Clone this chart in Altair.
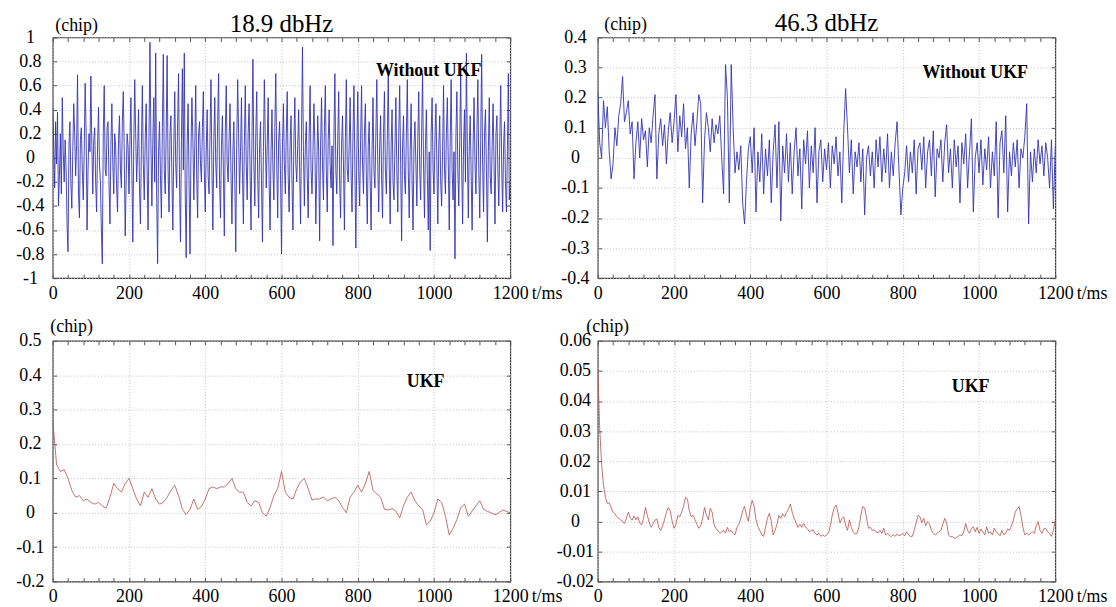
import altair as alt
import pandas as pd

FONT = "Liberation Serif"

# ---------------- data ----------------
t_2_5ms = [i * 2.5 for i in range(481)]
t_5ms = list(range(0, 1201, 5))
t_10ms = list(range(0, 1201, 10))

err_18_9 = [
    0.42, 0.1, -0.25, 0.3, -0.05, 0.38, -0.4, -0.15, 0.2, -0.3, 0.5, 0.05, -0.2, 0.15, -0.1, -0.55, -0.78, 0.1, 0.3, -0.2,
    -0.42, 0.05, 0.45, 0.2, -0.15, 0.1, 0.69, -0.3, -0.5, 0.15, 0.25, -0.1, -0.35, 0.05, 0.62, 0.2, -0.6, -0.1, 0.2, 0.05,
    0.68, 0.1, -0.3, 0.15, 0.25, -0.2, -0.45, 0.1, 0.42, -0.05, -0.2, -0.6, -0.88, 0.2, 0.6, -0.1, -0.15, 0.25, 0.3, -0.2,
    -0.55, 0.1, 0.45, -0.05, -0.3, 0.2, 0.1, -0.25, -0.45, 0.15, 0.35, -0.1, -0.25, 0.3, 0.55, 0.05, -0.65, -0.2, 0.2, 0.1,
    -0.3, 0.15, 0.5, -0.1, -0.7, 0.1, 0.65, 0.2, -0.2, 0.05, 0.4, -0.25, -0.55, 0.1, 0.6, -0.05, -0.35, 0.15, 0.45, -0.1,
    -0.6, 0.2, 0.96, 0.1, -0.4, 0.15, 0.5, -0.2, 0.87, -0.3, -0.88, 0.05, 0.3, -0.15, -0.5, 0.25, 0.86, -0.1, -0.3, 0.2,
    0.85, -0.1, -0.45, 0.2, 0.35, -0.15, -0.6, 0.1, 0.55, -0.05, -0.25, 0.3, 0.7, -0.2, -0.7, 0.15, 0.74, -0.1, 0.87, -0.3,
    -0.83, 0.1, 0.45, -0.2, -0.8, 0.05, 0.5, 0.15, -0.35, 0.1, 0.6, -0.15, -0.5, 0.2, 0.3, -0.05, -0.2, 0.25, 0.55, -0.1,
    -0.45, 0.05, 0.4, -0.15, -0.3, 0.2, 0.65, -0.1, -0.6, 0.15, 0.5, -0.05, -0.25, 0.3, 0.7, -0.2, -0.5, 0.1, 0.35, -0.1,
    -0.65, 0.2, 0.6, -0.05, -0.2, 0.15, 0.45, -0.15, -0.55, 0.05, 0.3, -0.2, -0.78, 0.1, 0.65, 0.2, -0.3, 0.05, 0.5, -0.1,
    -0.55, 0.1, 0.6, -0.05, -0.35, 0.2, 0.45, -0.1, -0.6, 0.15, 0.82, -0.05, -0.4, 0.2, 0.55, -0.15, -0.5, 0.1, 0.3, -0.2,
    -0.7, 0.05, 0.65, 0.15, -0.25, 0.1, 0.5, -0.2, -0.6, 0.05, 0.4, -0.1, -0.35, 0.25, 0.7, -0.05, -0.5, 0.15, 0.3, -0.15,
    -0.8, 0.1, 0.45, -0.05, -0.3, 0.2, 0.55, -0.15, -0.45, 0.1, 0.35, -0.2, -0.6, 0.15, 0.5, -0.05, -0.2, 0.1, 0.4, -0.1,
    -0.55, 0.2, 0.92, 0.05, -0.4, 0.1, 0.3, -0.15, -0.5, 0.2, 0.6, -0.1, -0.3, 0.05, 0.45, 0.1, -0.55, -0.1, 0.35, 0.05,
    -0.69, 0.1, 0.5, -0.05, -0.35, 0.25, 0.6, -0.1, -0.45, 0.15, 0.4, -0.05, -0.25, 0.1, -0.73, 0.2, 0.7, -0.1, -0.3, 0.15,
    0.55, -0.2, -0.5, 0.1, 0.35, -0.05, -0.6, 0.15, 0.65, -0.1, -0.2, 0.1, 0.5, -0.15, -0.45, 0.2, 0.6, -0.1, -0.75, 0.05,
    0.55, -0.1, -0.4, 0.15, 0.6, -0.05, -0.3, 0.2, 0.45, -0.15, -0.55, 0.1, 0.3, -0.2, -0.6, 0.05, 0.5, -0.1, -0.25, 0.2,
    0.65, -0.05, -0.45, 0.1, 0.35, -0.15, -0.5, 0.2, 0.55, -0.1, -0.3, 0.15, 0.7, -0.05, -0.55, 0.1, 0.4, -0.2, -0.35, 0.1,
    0.5, -0.1, -0.45, 0.2, 0.6, -0.05, -0.69, 0.1, 0.35, -0.15, -0.3, 0.2, 0.65, -0.1, -0.5, 0.05, 0.45, -0.2, -0.6, 0.1,
    0.3, -0.05, -0.4, 0.15, 0.55, -0.1, -0.35, 0.2, 0.7, -0.05, -0.5, 0.1, 0.4, -0.15, -0.6, 0.05, -0.77, 0.2, 0.5, -0.1,
    -0.3, 0.15, 0.45, -0.05, -0.55, 0.1, 0.35, -0.2, -0.4, 0.05, 0.6, -0.1, -0.3, 0.2, 0.5, -0.05, -0.6, 0.15, 0.65, -0.1,
    -0.35, 0.05, -0.84, 0.2, 0.55, -0.1, -0.4, 0.15, 0.7, -0.05, -0.55, 0.1, 0.4, -0.2, 0.87, 0.05, -0.5, 0.1, 0.35, -0.15,
    -0.6, 0.1, 0.5, -0.05, -0.3, 0.2, 0.65, -0.1, -0.5, 0.15, 0.86, -0.05, -0.45, 0.2, 0.4, -0.1, -0.7, 0.05, 0.5, -0.15,
    -0.3, 0.1, 0.45, -0.05, -0.55, 0.2, 0.35, -0.1, -0.4, 0.15, 0.6, -0.05, -0.45, 0.1, 0.3, -0.2, -0.45, 0.05, 0.7, -0.35,
    -0.2,
]

err_46_3 = [
    0.22, 0.05, 0.0, 0.19, 0.1, 0.17, 0.02, -0.07, -0.02, 0.1, 0.04, 0.14, 0.18, 0.27, 0.12, 0.15, 0.19, 0.08, 0.12, -0.07,
    0.05, 0.12, 0.0, 0.13, 0.06, 0.09, -0.03, 0.1, 0.05, 0.14, 0.21, -0.07, 0.08, 0.13, 0.04, 0.11, -0.02, 0.09, 0.15, 0.05,
    0.12, 0.21, 0.02, 0.14, 0.07, 0.18, 0.03, 0.1, -0.1, 0.08, 0.15, 0.04, 0.12, 0.21, 0.18, -0.15, 0.06, 0.15, 0.1, 0.02,
    0.13, 0.05, 0.11, 0.08, 0.14, 0.0, -0.12, 0.31, 0.2, -0.15, 0.31, 0.1, -0.05, 0.02, -0.04, 0.04, -0.15, -0.22, -0.08, 0.03,
    0.07, -0.05, 0.1, -0.18, 0.02, -0.08, 0.08, -0.12, 0.03, -0.06, 0.06, -0.15, 0.02, 0.11, -0.1, 0.12, -0.21, 0.04, -0.05, 0.08,
    -0.08, 0.05, -0.12, 0.02, 0.1, -0.06, 0.03, -0.17, 0.06, -0.02, 0.09, -0.1, 0.04, -0.05, 0.1, -0.15, 0.02, 0.06, -0.08, 0.03,
    -0.04, 0.05, -0.1, 0.04, -0.02, 0.07, -0.06, 0.02, -0.15, 0.08, 0.23, 0.1, -0.05, 0.06, -0.12, 0.02, -0.03, 0.05, -0.08, 0.03,
    -0.19, 0.0, 0.04, -0.06, 0.02, -0.1, 0.06, -0.03, 0.07, -0.08, 0.03, -0.05, 0.08, -0.1, 0.02, -0.06, 0.05, 0.12, -0.04, -0.19,
    -0.1, -0.05, 0.04, -0.08, 0.02, -0.05, 0.06, -0.12, 0.03, 0.05, -0.04, 0.07, -0.1, 0.02, 0.06, -0.06, 0.09, -0.13, 0.03, 0.0,
    0.06, -0.08, 0.05, 0.11, -0.05, 0.03, -0.1, 0.06, -0.03, 0.04, -0.15, 0.05, -0.02, 0.08, -0.1, 0.02, 0.13, -0.18, 0.0, 0.05,
    -0.05, 0.06, -0.09, 0.03, -0.04, 0.07, -0.1, 0.02, -0.06, 0.12, -0.2, 0.05, 0.09, -0.05, 0.14, -0.18, 0.02, -0.06, 0.05, -0.03,
    0.06, -0.1, 0.03, 0.0, 0.07, 0.18, -0.22, 0.02, -0.08, 0.03, -0.05, 0.06, -0.02, 0.04, -0.06, 0.05, 0.0, -0.1, 0.06, -0.17,
    0.04,
]

ukf_18_9 = [
    0.27, 0.14, 0.12, 0.125, 0.10, 0.065, 0.045, 0.05, 0.035, 0.04,
    0.03, 0.025, 0.03, 0.02, 0.013, 0.045, 0.085, 0.07, 0.06, 0.085,
    0.10, 0.07, 0.04, 0.02, 0.06, 0.045, 0.07, 0.04, 0.025, 0.03,
    0.045, 0.065, 0.08, 0.05, 0.01, -0.005, 0.01, 0.04, 0.01, 0.018,
    0.04, 0.07, 0.075, 0.07, 0.075, 0.075, 0.085, 0.10, 0.07, 0.06,
    0.06, 0.03, 0.02, 0.035, 0.03, 0.0, -0.01, 0.015, 0.05, 0.07,
    0.12, 0.06, 0.045, 0.04, 0.07, 0.09, 0.10, 0.07, 0.037, 0.04,
    0.04, 0.046, 0.035, 0.04, 0.045, 0.035, 0.015, 0.0, 0.045, 0.06,
    0.08, 0.06, 0.085, 0.12, 0.065, 0.055, 0.045, 0.01, 0.008, 0.012,
    0.005, -0.015, 0.02, 0.045, 0.06, 0.035, 0.02, 0.01, -0.035, -0.025,
    0.0, 0.04, 0.03, -0.01, -0.065, -0.045, -0.02, 0.015, 0.025, -0.01,
    0.005, 0.02, 0.035, 0.01, 0.004, 0.0, -0.006, 0.0, 0.008, 0.004,
    0.0,
]

ukf_46_3 = [
    0.051, 0.031, 0.019, 0.012, 0.008, 0.006, 0.0062, 0.0045, 0.003, 0.0025, 0.0015, 0.001, 0.0005, 0.0, -0.0007, 0.001, 0.003, 0.0012, 0.0004, 0.0018,
    0.0005, 0.0015, -0.0005, -0.0012, 0.001, 0.0046, 0.002, -0.0005, -0.002, -0.0008, 0.0004, 0.0008, -0.002, -0.003, -0.0015, 0.0005, 0.003, 0.0046, 0.0035, 0.0,
    -0.0023, -0.001, 0.002, 0.0015, 0.003, 0.005, 0.008, 0.0075, 0.0035, 0.0015, 0.002, 0.0005, -0.001, -0.0023, -0.0015, 0.001, 0.0046, 0.002, 0.0005, 0.0043,
    0.003, -0.001, -0.0025, -0.003, -0.004, -0.0035, -0.003, -0.0038, -0.002, -0.0035, -0.003, -0.004, -0.0045, -0.002, -0.001, 0.001, 0.0035, 0.005, 0.002, 0.0,
    0.0045, 0.007, 0.005, 0.0005, -0.0018, -0.003, -0.0045, -0.005, -0.002, 0.001, 0.0027, 0.0, -0.0045, -0.003, -0.001, 0.002, 0.001, 0.0025, 0.0015, 0.003,
    0.004, 0.0058, 0.003, 0.001, -0.0005, -0.002, -0.001, -0.002, -0.0007, -0.002, -0.0025, -0.0035, -0.003, -0.0028, -0.004, -0.0045, -0.004, -0.005, -0.0045, -0.005,
    -0.0045, -0.004, -0.0015, 0.002, 0.0045, 0.0054, 0.003, -0.0005, 0.0008, 0.0015, -0.0012, -0.003, 0.0005, -0.002, -0.0035, -0.0042, -0.004, -0.002, 0.002, 0.0049,
    0.0045, 0.001, -0.0023, -0.002, -0.003, -0.0028, -0.0035, -0.0038, -0.003, -0.004, -0.0023, -0.0045, -0.004, -0.0048, -0.005, -0.0045, -0.005, -0.0042, -0.0048, -0.0045,
    -0.004, -0.0048, -0.0035, -0.0045, -0.005, -0.005, -0.003, -0.0005, 0.002, 0.0015, -0.0005, 0.001, -0.0015, -0.0001, -0.0008, -0.003, -0.004, -0.0045, -0.004, -0.0035,
    -0.003, -0.001, 0.001, -0.0005, -0.0045, -0.0052, -0.005, -0.0056, -0.0055, -0.005, -0.0045, -0.0048, -0.0035, -0.0007, -0.003, -0.004, -0.0025, -0.0018, -0.0035, -0.002,
    -0.004, -0.0025, -0.0035, -0.0045, -0.0018, -0.004, -0.0035, -0.0045, -0.0023, -0.0035, -0.004, -0.0048, -0.003, -0.0045, -0.004, -0.0025, -0.003, -0.0015, 0.0004, 0.003,
    0.0042, 0.0049, 0.002, -0.002, -0.0045, -0.004, -0.0045, -0.004, -0.0035, -0.004, -0.0015, -0.0001, -0.003, -0.004, -0.0025, -0.0023, -0.0035, -0.004, -0.005, -0.003,
    0.0004,
]

x_ticks = [0, 200, 400, 600, 800, 1000, 1200]
x_minor = list(range(0, 1201, 40))
y_ticks_18_9 = [-1, -0.8, -0.6, -0.4, -0.2, 0, 0.2, 0.4, 0.6, 0.8, 1]
y_ticks_46_3 = [-0.4, -0.3, -0.2, -0.1, 0, 0.1, 0.2, 0.3, 0.4]
y_ticks_ukf_18_9 = [-0.2, -0.1, 0, 0.1, 0.2, 0.3, 0.4, 0.5]
y_ticks_ukf_46_3 = [-0.02, -0.01, 0, 0.01, 0.02, 0.03, 0.04, 0.05, 0.06]

LABEL_EXPR = "datum.value == 0 ? '0' : (datum.value < 0 ? '-' : '') + format(abs(datum.value), '~g')"

W, H = 460, 242
AXIS_STYLE = dict(labelFont=FONT, labelFontSize=18, labelColor="black",
                  titleFont=FONT, titleFontSize=18, titleFontWeight="normal",
                  titleColor="black", gridColor="#c4c4c4", gridDash=[1, 2], gridWidth=1)


def panel(times, vals, yticks, color, width, note, note_t, note_v, chip_x, chip_y, title=None):
    df = pd.DataFrame({"t": times, "v": vals})
    xs = alt.Scale(domain=[0, 1200], nice=False, zero=False)
    ys = alt.Scale(domain=[yticks[0], yticks[-1]], nice=False, zero=False)
    base = alt.Chart(df)
    line = base.mark_line(color=color, strokeWidth=width, clip=True).encode(
        x=alt.X("t:Q", scale=xs, axis=alt.Axis(
            values=x_ticks, format="d", grid=True, domain=False, tickSize=0, labelPadding=6,
            labelFlush=False, title="t/ms", titleX=481, titleY=6, titleAlign="left",
            titleBaseline="top", **AXIS_STYLE)),
        y=alt.Y("v:Q", scale=ys, axis=alt.Axis(
            values=yticks, grid=True, domain=False, tickSize=0, labelPadding=23,
            labelAlign="center", labelBaseline="middle", labelExpr=LABEL_EXPR,
            title="(chip)", titleAngle=0, titleAlign="left", titleBaseline="alphabetic",
            titleX=chip_x, titleY=chip_y, **AXIS_STYLE)),
    )
    ticks_a = base.mark_point(opacity=0).encode(
        x=alt.X("t:Q", scale=xs, axis=alt.Axis(
            orient="top", values=x_minor, offset=-4, tickSize=4, labels=False,
            domain=False, grid=False, title="", tickColor="#555555")),
        y=alt.Y("v:Q", scale=ys, axis=alt.Axis(
            orient="right", values=yticks, offset=-4, tickSize=4, labels=False,
            domain=False, grid=False, title="", tickColor="#555555")),
    )
    ticks_b = base.mark_point(opacity=0).encode(
        x=alt.X("t:Q", scale=xs, axis=alt.Axis(
            orient="bottom", values=x_minor, offset=-4, tickSize=4, labels=False,
            domain=False, grid=False, title="", tickColor="#555555")),
        y=alt.Y("v:Q", scale=ys, axis=alt.Axis(
            orient="left", values=yticks, offset=-4, tickSize=4, labels=False,
            domain=False, grid=False, title="", tickColor="#555555")),
    )
    note_df = pd.DataFrame({"t": [note_t], "v": [note_v], "s": [note]})
    text = alt.Chart(note_df).mark_text(
        font=FONT, fontSize=18, fontWeight="bold", color="black"
    ).encode(
        x=alt.X("t:Q", scale=xs, axis=None),
        y=alt.Y("v:Q", scale=ys, axis=None),
        text="s:N",
    )
    ch = alt.layer(line, ticks_a, ticks_b, text).resolve_axis(
        x="independent", y="independent"
    )
    props = dict(width=W, height=H)
    if title:
        props["title"] = alt.TitleParams(
            text=title, font=FONT, fontSize=25, fontWeight="normal",
            color="black", anchor="middle", offset=-20)
    return ch.properties(**props)


p1 = panel(t_2_5ms, err_18_9, y_ticks_18_9, "#3434b4", 0.9, "Without UKF", 986, 0.72, 2, -7, "18.9 dbHz")
p2 = panel(t_5ms, err_46_3, y_ticks_46_3, "#3434b4", 0.9, "Without UKF", 990, 0.282, 6, -8, "46.3 dbHz")
p3 = panel(t_10ms, ukf_18_9, y_ticks_ukf_18_9, "#b45050", 0.8, "UKF", 978, 0.379, -3, -9)
p4 = panel(t_5ms, ukf_46_3, y_ticks_ukf_46_3, "#b45050", 0.8, "UKF", 978, 0.0448, -12, -9)

chart = alt.concat(
    p1, p2, p3, p4, columns=2, spacing={"row": 63, "column": 88}, bounds="flush"
).properties(
    padding={"left": 7, "top": 0, "right": 0, "bottom": 0}
).configure_view(
    stroke="#3a3a3a", strokeWidth=1.2
)

chart.save("out.html", embed_options={"renderer": "svg", "actions": False})
